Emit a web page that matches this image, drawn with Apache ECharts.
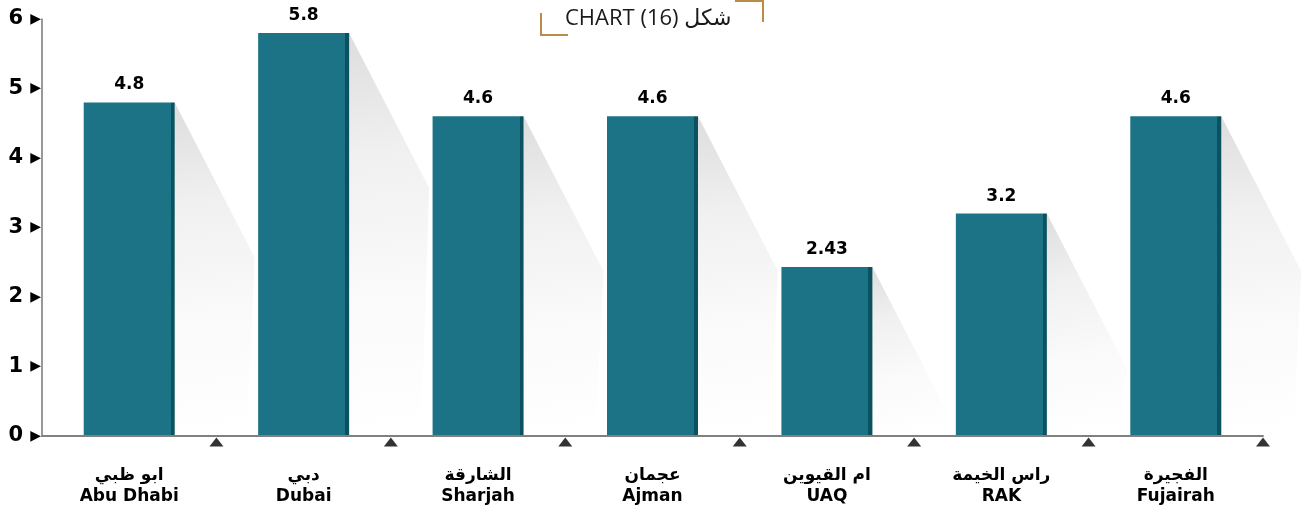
<!DOCTYPE html>
<html lang="en">
<head>
    <meta charset="UTF-8">
    <title>Chart 16</title>
    <style type="text/css">
        *{
            margin: 0px;
            padding: 0px;
        }
        #chart{
            width: 1308px;
            height: 512px;
            background: #fff;
        }
    </style>
</head>
<body>
<div id="chart"></div>
<script src="https://cdn.jsdelivr.net/npm/echarts@6/dist/echarts.min.js"></script>
<script type="text/javascript">
  // data
  var arabicNames = ['ابو ظبي', 'دبي', 'الشارقة', 'عجمان', 'ام القيوين', 'راس الخيمة', 'الفجيرة'];
  var englishNames = ['Abu Dhabi', 'Dubai', 'Sharjah', 'Ajman', 'UAQ', 'RAK', 'Fujairah'];
  var values = [4.8, 5.8, 4.6, 4.6, 2.43, 3.2, 4.6];
  var yTicks = [0, 1, 2, 3, 4, 5, 6];
  var boundaryMarks = [1, 2, 3, 4, 5, 6, 7];
  var titleText = 'CHART (16) شكل';

  var barColor = '#1c7386';
  var barEdge = '#0b5260';
  var barW = 91;

  var categories = [];
  for (var i = 0; i < arabicNames.length; i++) {
    categories.push(arabicNames[i] + '\n' + englishNames[i]);
  }

  var myChart = echarts.init(document.getElementById('chart'));

  myChart.setOption({
    animation: false,
    grid: { left: 42, right: 45, top: 19, bottom: 76, containLabel: false },
    graphic: [
      {
        type: 'text',
        left: 565,
        top: 8,
        style: {
          text: titleText,
          font: '22px "Open Sans", "DejaVu Sans", sans-serif',
          fill: '#1a1a1a'
        }
      },
      {
        type: 'polyline',
        shape: { points: [[735, 1], [763, 1], [763, 22]] },
        style: { stroke: '#b98c48', lineWidth: 2, fill: null }
      },
      {
        type: 'polyline',
        shape: { points: [[541, 13], [541, 35], [568, 35]] },
        style: { stroke: '#b98c48', lineWidth: 2, fill: null }
      }
    ],
    xAxis: [
      {
        type: 'category',
        data: categories,
        z: 5,
        axisLine: { lineStyle: { color: '#808080', width: 2 } },
        axisTick: { show: false },
        axisLabel: {
          interval: 0,
          margin: 29,
          color: '#000',
          fontFamily: 'DejaVu Sans',
          fontWeight: 'bold',
          fontSize: 17,
          lineHeight: 21
        }
      },
      {
        type: 'value',
        min: 0,
        max: 7,
        show: false
      }
    ],
    yAxis: {
      type: 'value',
      min: 0,
      max: 6,
      interval: 1,
      splitLine: { show: false },
      axisTick: { show: false },
      axisLine: { show: true, lineStyle: { color: '#777', width: 1.5 } },
      axisLabel: {
        margin: 1,
        formatter: function (v) {
          return '{n|' + v + '}{t|▶}';
        },
        rich: {
          n: { fontFamily: 'DejaVu Sans', fontWeight: 'bold', fontSize: 21, color: '#000' },
          t: { fontFamily: 'DejaVu Sans', fontSize: 14, color: '#000', padding: [0, 0, 0, 7] }
        }
      }
    },
    series: [
      {
        // soft shadow to the right of each bar
        type: 'custom',
        xAxisIndex: 0,
        silent: true,
        z: 1,
        data: values,
        renderItem: function (params, api) {
          var top = api.coord([api.value(0), api.value(1)]);
          var base = api.coord([api.value(0), 0]);
          var x = top[0] + barW / 2;
          var bottom = base[1] - 1;
          var h = bottom - top[1];
          var pts;
          if (h > 155) {
            pts = [[x, top[1]], [x + 80, top[1] + 155], [x + 72, bottom], [x, bottom]];
          } else {
            pts = [[x, top[1]], [x + h * 0.51, bottom], [x, bottom]];
          }
          return {
            type: 'polygon',
            shape: { points: pts },
            style: {
              fill: new echarts.graphic.LinearGradient(0, 0, 0.5, 1, [
                { offset: 0, color: '#dddddd' },
                { offset: 0.3, color: '#f0f0f0' },
                { offset: 0.65, color: '#fafafa' },
                { offset: 1, color: '#ffffff' }
              ])
            }
          };
        }
      },
      {
        type: 'bar',
        data: values,
        barWidth: barW,
        z: 2,
        itemStyle: {
          color: new echarts.graphic.LinearGradient(0, 0, 1, 0, [
            { offset: 0, color: barColor },
            { offset: 0.956, color: barColor },
            { offset: 0.956, color: barEdge },
            { offset: 1, color: barEdge }
          ])
        },
        label: {
          show: true,
          position: 'top',
          distance: 9,
          color: '#000',
          fontFamily: 'DejaVu Sans',
          fontWeight: 'bold',
          fontSize: 17
        }
      },
      {
        type: 'scatter',
        xAxisIndex: 1,
        data: boundaryMarks.map(function (v) { return [v, 0]; }),
        symbol: 'triangle',
        symbolSize: [14, 9],
        symbolOffset: [0, 6],
        clip: false,
        silent: true,
        z: 3,
        itemStyle: { color: '#000' }
      }
    ]
  });
</script>
</body>
</html>
